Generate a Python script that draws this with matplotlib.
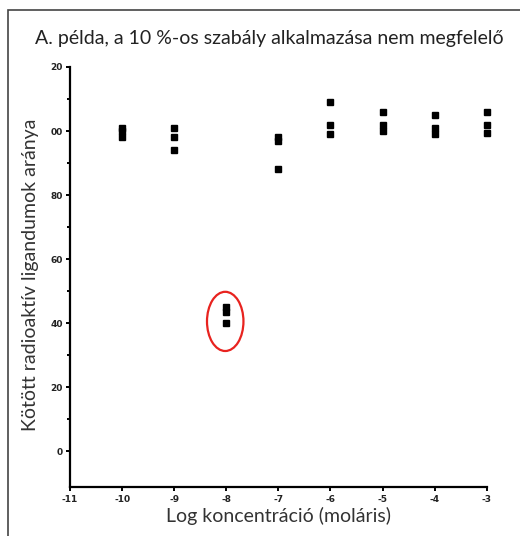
import matplotlib.pyplot as plt
from matplotlib.patches import Ellipse, Rectangle

# log concentration (molar) and bound radioligand fraction, three replicates each
log_conc = [-10, -9, -8, -7, -6, -5, -4, -3]
rep1 = [101, 101, 45, 98, 109, 106, 105, 106]
rep2 = [100, 98, 43.5, 97, 102, 102, 101, 102]
rep3 = [98, 94, 40, 88, 99, 100, 99, 99.5]

y_ticks = [0, 20, 40, 60, 80, 100, 120]
y_tick_labels = ['0', '20', '40', '60', '80', '00', '20']
x_ticks = list(range(-11, -2))

plt.rcParams['font.family'] = ['Lato', 'DejaVu Sans']

fig = plt.figure(figsize=(5.2, 5.36), dpi=100)
ax = fig.add_axes([0.1346, 0.0914, 0.8014, 0.7836])

for rep in [rep1, rep2, rep3]:
    ax.plot(log_conc, rep, 's', color='black', markersize=4.5, linestyle='none', clip_on=False)

# the outlier group at -8 is circled
ax.add_patch(Ellipse((-8.02, 40.5), 0.7, 18.5, fill=False, edgecolor='#e8231f', lw=1.6))

ax.set_xlim(-11, -3)
ax.set_ylim(-11.25, 120)
ax.set_xticks(x_ticks)
ax.set_xticklabels([str(v) for v in x_ticks], fontsize=6.5, fontweight='bold',
                   family='DejaVu Sans', color='#222222')
ax.set_yticks(y_ticks)
ax.set_yticklabels(y_tick_labels, fontsize=6.5, fontweight='bold',
                   family='DejaVu Sans', color='#222222')
ax.set_yticks(range(10, 120, 20), minor=True)
ax.tick_params(which='both', direction='out', width=1.4, length=3)
ax.tick_params(which='minor', length=2.2)
ax.tick_params(axis='y', pad=2)
ax.tick_params(axis='x', pad=3)
for side in ['top', 'right']:
    ax.spines[side].set_visible(False)
for side in ['left', 'bottom']:
    ax.spines[side].set_linewidth(1.6)

ax.set_xlabel('Log koncentráció (moláris)', fontsize=14, color='#333333', labelpad=2)
ax.set_ylabel('Kötött radioaktív ligandumok aránya', fontsize=14, color='#333333')
ax.yaxis.set_label_coords(-0.075, 0.505)

fig.text(0.518, 0.929, 'A. példa, a 10 %-os szabály alkalmazása nem megfelelő',
         ha='center', va='center', fontsize=14, color='#222222')

# outer frame of the slide figure (only top and left edges are visible)
fig.add_artist(Rectangle((0.016, -0.05), 1.05, 1.031, transform=fig.transFigure,
                         fill=False, edgecolor='#444444', lw=1.2))

fig.savefig('out.png', dpi=100)
